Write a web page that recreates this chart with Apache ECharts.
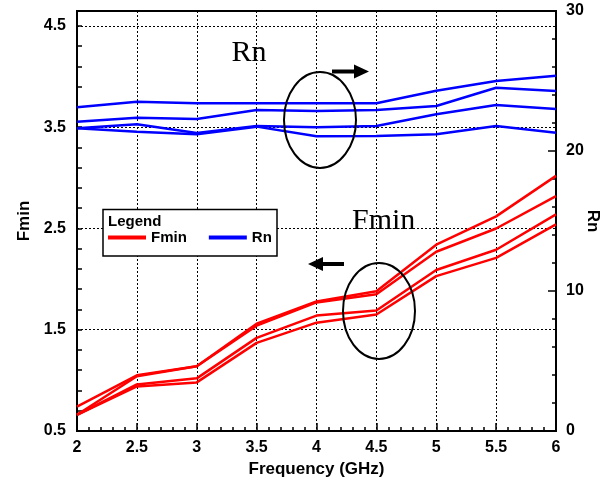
<!DOCTYPE html>
<html>
<head>
<meta charset="utf-8">
<script src="https://cdn.jsdelivr.net/npm/echarts@6/dist/echarts.min.js"></script>
<style>html,body{margin:0;padding:0;background:#fff;}#c{width:610px;height:481px;}</style>
</head>
<body>
<div id="c"></div>
<script>
const freq = [2, 2.5, 3, 3.5, 4, 4.5, 5, 5.5, 6];
const fmin1 = [0.74, 1.05, 1.14, 1.56, 1.78, 1.88, 2.34, 2.62, 3.02];
const fmin2 = [0.66, 1.04, 1.14, 1.54, 1.77, 1.85, 2.27, 2.50, 2.82];
const fmin3 = [0.66, 0.96, 1.02, 1.42, 1.64, 1.69, 2.09, 2.29, 2.64];
const fmin4 = [0.66, 0.94, 0.98, 1.37, 1.57, 1.65, 2.03, 2.21, 2.54];
const rn1 = [23.12, 23.52, 23.41, 23.41, 23.41, 23.41, 24.31, 25.00, 25.38];
const rn2 = [22.09, 22.38, 22.29, 22.93, 22.86, 22.93, 23.21, 24.52, 24.29];
const rn3 = [21.62, 21.91, 21.29, 21.79, 21.69, 21.79, 22.62, 23.29, 23.00];
const rn4 = [21.62, 21.38, 21.19, 21.74, 21.06, 21.07, 21.19, 21.79, 21.31];
const leftMajor = [0.5, 1.5, 2.5, 3.5, 4.5];
const rightTicks = [0, 10, 20, 30];

const FONT = '"Liberation Sans", Arial, sans-serif';
const SERIF = '"Liberation Serif", "Times New Roman", serif';
const pairs = arr => freq.map((f, i) => [f, arr[i]]);

const fminSets = [fmin1, fmin2, fmin3, fmin4];
const rnSets = [rn1, rn2, rn3, rn4];
const series = [];
fminSets.forEach(a => series.push({
  name: 'Fmin', type: 'line', xAxisIndex: 0, yAxisIndex: 0, data: pairs(a),
  symbol: 'none', lineStyle: { color: '#ff0000', width: 2.5 }, itemStyle: { color: '#ff0000' }, z: 3
}));
rnSets.forEach(a => series.push({
  name: 'Rn', type: 'line', xAxisIndex: 0, yAxisIndex: 1, data: pairs(a),
  symbol: 'none', lineStyle: { color: '#0000ff', width: 2.5 }, itemStyle: { color: '#0000ff' }, z: 3
}));

const isMajor = v => leftMajor.some(m => Math.abs(m - v) < 1e-6);

const chart = echarts.init(document.getElementById('c'), null, { renderer: 'canvas' });
chart.setOption({
  animation: false,
  backgroundColor: '#fff',
  grid: { left: 77, right: 54, top: 11, bottom: 50, containLabel: false, outerBoundsMode: 'none',
    show: true, borderColor: '#000', borderWidth: 2, backgroundColor: 'transparent' },
  xAxis: [{
    type: 'value', min: 2, max: 6, interval: 0.5,
    name: 'Frequency (GHz)', nameLocation: 'middle', nameGap: 27,
    nameTextStyle: { fontFamily: FONT, fontWeight: 'bold', fontSize: 17, color: '#000' },
    axisLine: { show: true, lineStyle: { color: '#000', width: 2 } },
    axisTick: { show: true, inside: true, length: 8, lineStyle: { color: '#000', width: 1.5 } },
    minorTick: { show: true, splitNumber: 5, length: 4, lineStyle: { color: '#000', width: 1.5 } },
    axisLabel: { fontFamily: FONT, fontWeight: 'bold', fontSize: 16, color: '#000', margin: 9,
      formatter: v => String(v) },
    splitLine: { show: true, lineStyle: { color: '#000', width: 1, type: [2, 2] } }
  }],
  yAxis: [{
    type: 'value', position: 'left', min: 0.5, max: 4.648, interval: 0.2,
    name: 'Fmin', nameLocation: 'middle', nameGap: 44, nameRotate: 90,
    nameTextStyle: { fontFamily: FONT, fontWeight: 'bold', fontSize: 17, color: '#000' },
    axisLine: { show: true, lineStyle: { color: '#000', width: 2 } },
    axisTick: { show: true, inside: true, length: 5, lineStyle: { color: '#000', width: 1.5 } },
    axisLabel: { fontFamily: FONT, fontWeight: 'bold', fontSize: 16, color: '#000', margin: 11, showMaxLabel: false,
      formatter: v => isMajor(v) ? v.toFixed(1) : '' },
    splitLine: { show: false }
  }, {
    type: 'value', position: 'right', min: 0, max: 30, interval: 10,
    name: 'Rn', nameLocation: 'middle', nameGap: 28, nameRotate: -90, nameMoveOverlap: false,
    nameTextStyle: { fontFamily: FONT, fontWeight: 'bold', fontSize: 17, color: '#000' },
    axisLine: { show: true, lineStyle: { color: '#000', width: 2 } },
    axisTick: { show: true, inside: true, length: 8, lineStyle: { color: '#000', width: 1.5 } },
    minorTick: { show: true, splitNumber: 5, length: 4, lineStyle: { color: '#000', width: 1.5 } },
    axisLabel: { fontFamily: FONT, fontWeight: 'bold', fontSize: 16, color: '#000', margin: 10,
      formatter: v => rightTicks.includes(v) ? String(v) : '' },
    splitLine: { show: false }
  }, {
    type: 'value', position: 'left', min: 0.5, max: 4.648, interval: 1,
    axisLine: { show: false }, axisTick: { show: false }, axisLabel: { show: false },
    splitLine: { show: true, lineStyle: { color: '#000', width: 1, type: [2, 2] } }
  }],
  legend: {
    data: ['Fmin', 'Rn'], left: 108, top: 230, padding: 0, itemGap: 22,
    itemWidth: 38, itemHeight: 4, icon: 'rect', selectedMode: false, z: 60,
    textStyle: { fontFamily: FONT, fontWeight: 'bold', fontSize: 15, color: '#000' }
  },
  graphic: [
    { type: 'rect', z: 50, shape: { x: 103, y: 209.5, width: 174, height: 46.5 },
      style: { fill: '#fff', stroke: '#000', lineWidth: 1.5 } },
    { type: 'text', z: 55, x: 108, y: 222, style: { text: 'Legend', font: 'bold 15px ' + FONT, fill: '#000', verticalAlign: 'middle' } },
    { type: 'ellipse', z: 40, shape: { cx: 320, cy: 120, rx: 36, ry: 48 }, style: { fill: 'none', stroke: '#000', lineWidth: 2 } },
    { type: 'ellipse', z: 40, shape: { cx: 379, cy: 311, rx: 36, ry: 48 }, style: { fill: 'none', stroke: '#000', lineWidth: 2 } },
    { type: 'line', z: 40, shape: { x1: 332, y1: 71.5, x2: 356, y2: 71.5 }, style: { stroke: '#000', lineWidth: 4 } },
    { type: 'polygon', z: 40, shape: { points: [[354, 64.5], [369, 71.5], [354, 78.5]] }, style: { fill: '#000' } },
    { type: 'line', z: 40, shape: { x1: 321, y1: 264, x2: 344, y2: 264 }, style: { stroke: '#000', lineWidth: 4 } },
    { type: 'polygon', z: 40, shape: { points: [[308, 264], [323, 257], [323, 271]] }, style: { fill: '#000' } },
    { type: 'text', z: 40, x: 231.5, y: 53, style: { text: 'Rn', font: '30px ' + SERIF, fill: '#000', verticalAlign: 'middle' } },
    { type: 'text', z: 40, x: 352, y: 221, style: { text: 'Fmin', font: '30px ' + SERIF, fill: '#000', verticalAlign: 'middle' } }
  ],
  series: series
});
</script>
</body>
</html>
